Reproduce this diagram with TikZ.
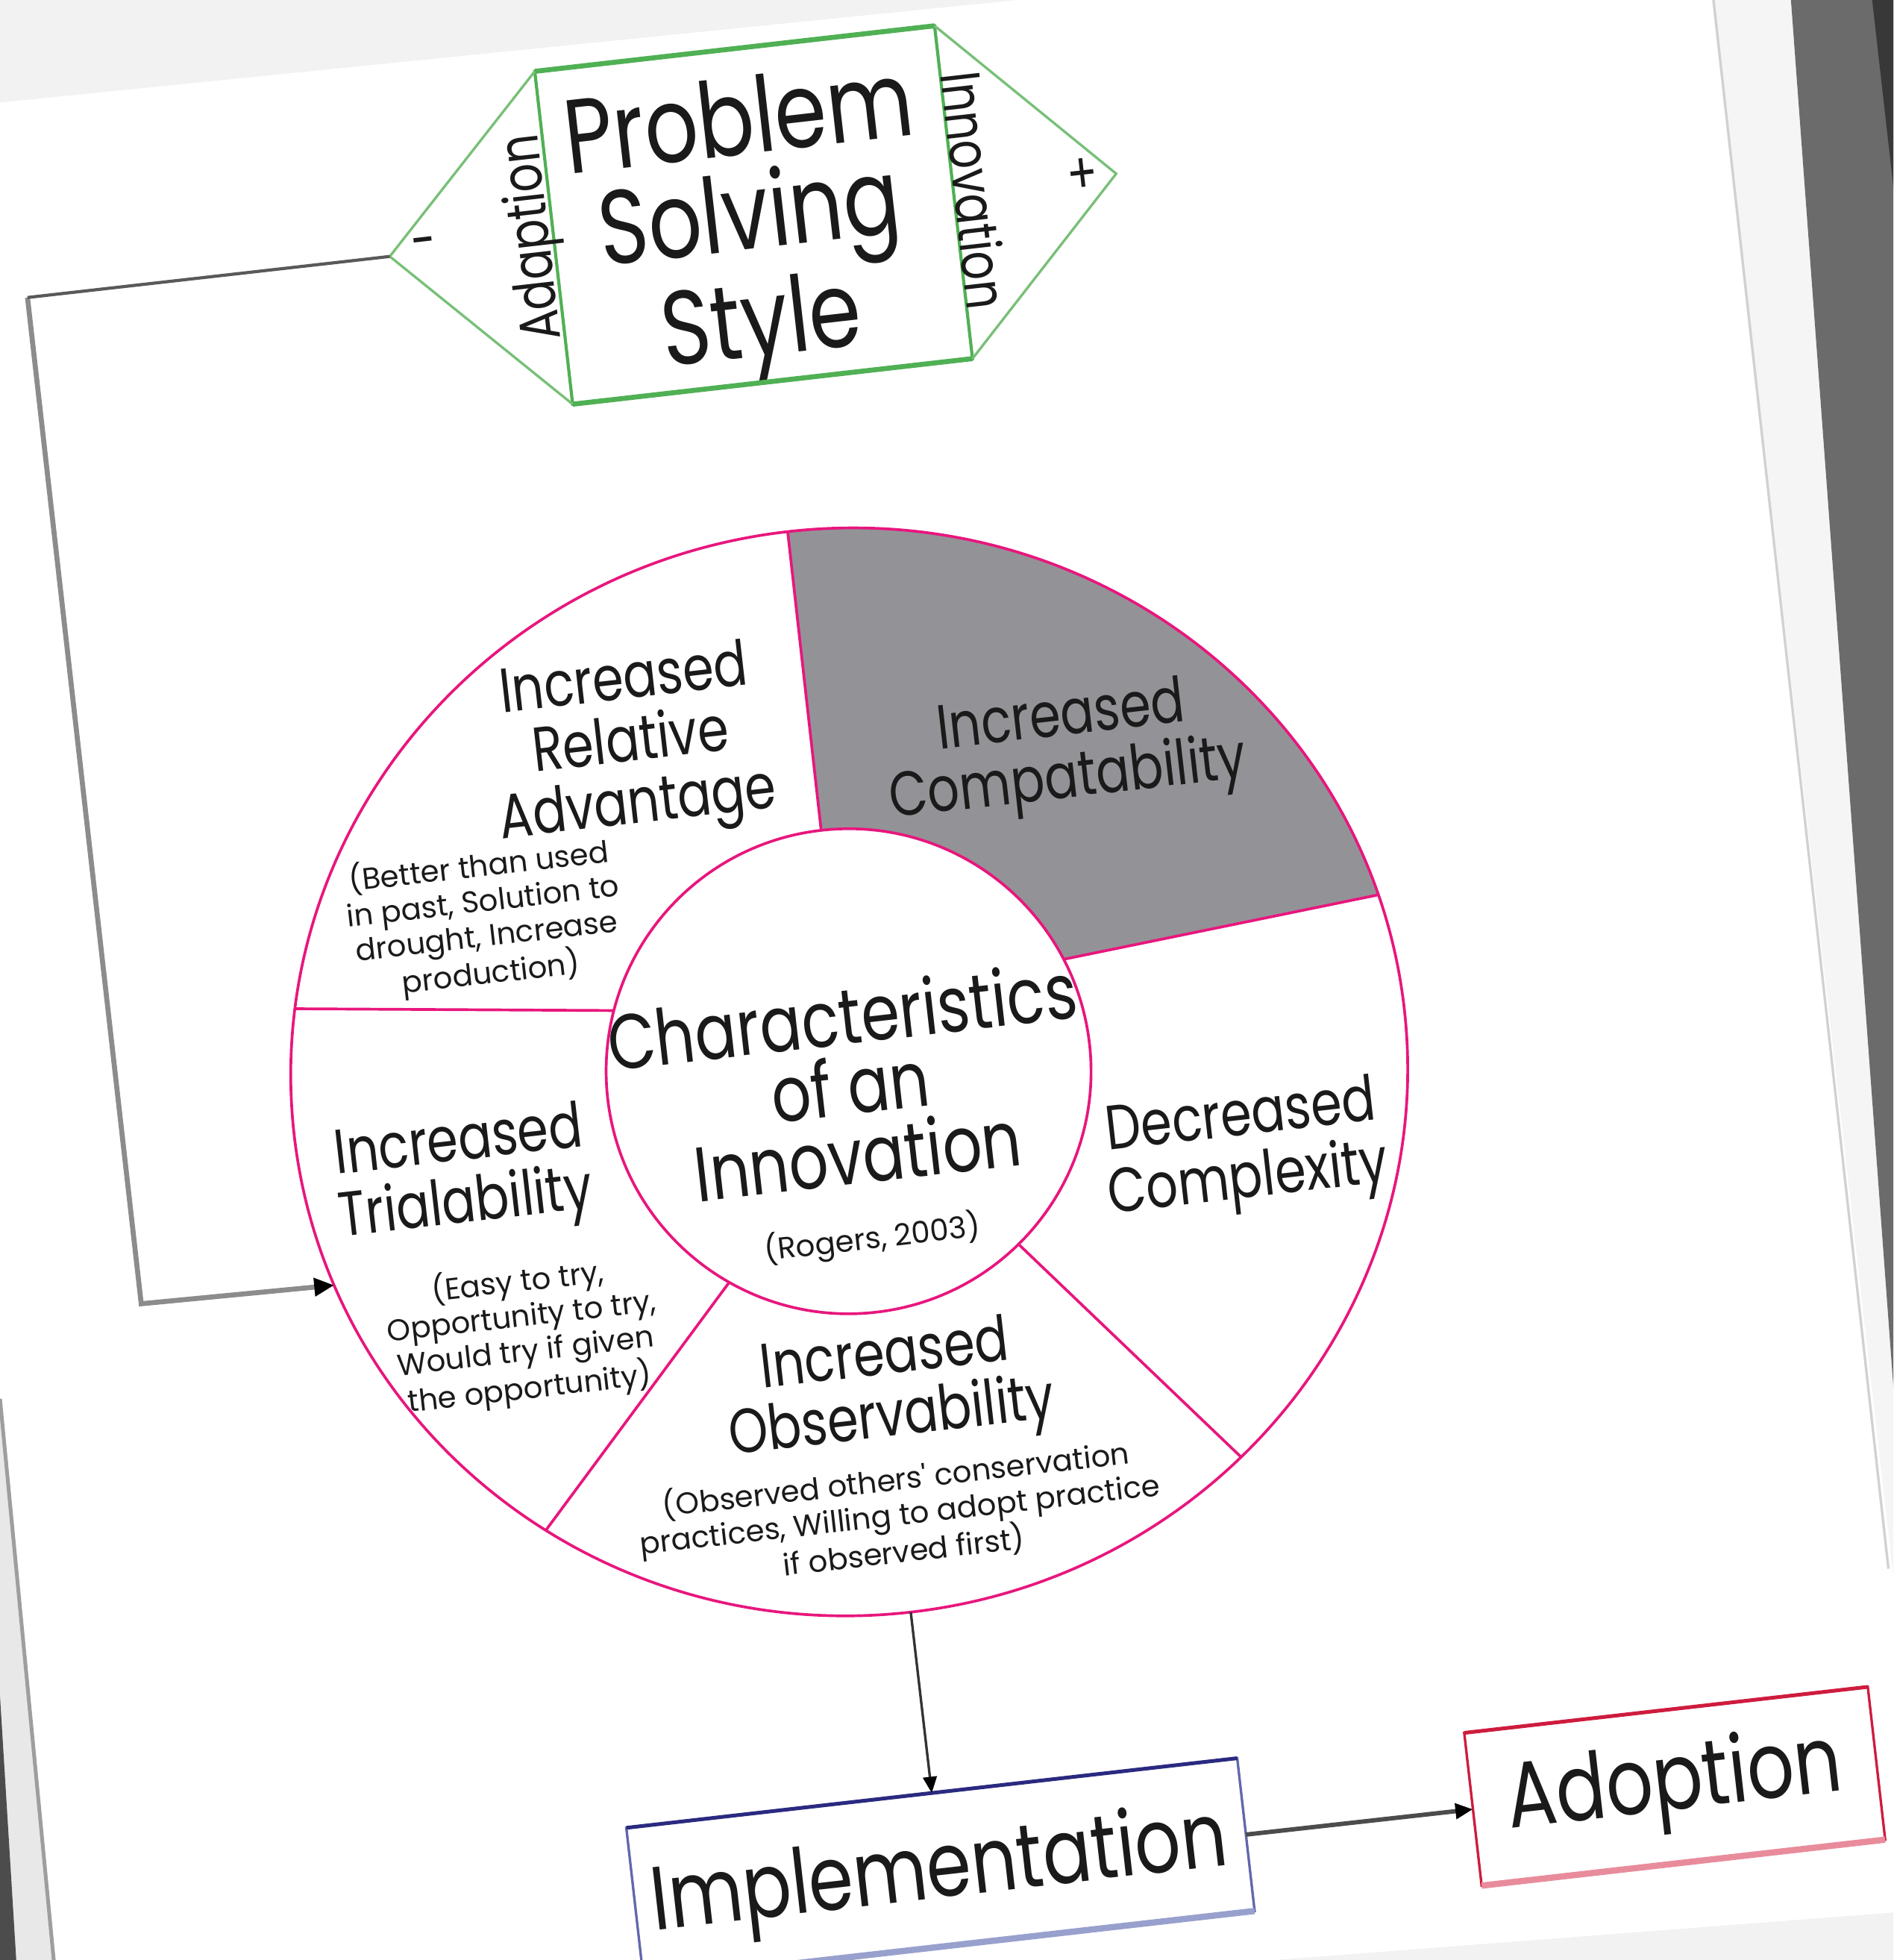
\documentclass[tikz,border=0pt]{standalone}
\usepackage{fontspec}
\setmainfont[FakeStretch=0.8]{Poppins}
\newfontfamily\notefont{Poppins}
\usetikzlibrary{arrows.meta,calc,shapes.geometric,backgrounds}
\definecolor{ringpink}{RGB}{232,22,125}
\definecolor{cmpgray}{RGB}{147,147,151}
\definecolor{psgreen}{RGB}{80,176,84}
\definecolor{hexgreen}{RGB}{120,192,120}
\definecolor{implblue}{RGB}{98,104,172}
\definecolor{impltop}{RGB}{42,42,128}
\definecolor{implbot}{RGB}{152,160,205}
\definecolor{adoptred}{RGB}{206,28,62}
\definecolor{adoptbot}{RGB}{232,140,156}
\definecolor{inkgray}{RGB}{26,26,26}
\begin{document}
\begin{tikzpicture}[x=1pt,y=-1pt,
    every node/.style={inner sep=0pt,outer sep=0pt,text=inkgray,align=center,rotate=6.5},
    title/.style={font=\fontsize{50}{50}\selectfont},
    note/.style={font=\notefont\fontsize{24}{28}\selectfont},
    side/.style={font=\fontsize{45}{45}\selectfont},
    seg/.style={draw=ringpink,line width=2.2pt},
    bigbox/.style={draw,line width=2pt,minimum height=123}]
  \useasboundingbox (0,0) rectangle (1515,1568);
  % page edges of the photo
  \fill[black!5] (0,0) -- (814,0) -- (0,82) -- cycle;
  \fill[black!4] (1371,0) -- (1433,0) -- (1515,1110) -- (1515,1262) -- cycle;
  \draw[black!18,line width=2pt] (1371,0) -- (1511,1255);
  \fill[black!58] (1433,0) -- (1515,0) -- (1515,1110) -- cycle;
  \fill[black!78] (1498,0) -- (1515,0) -- (1515,150) -- cycle;
  \fill[black!5] (1020,1568) -- (1515,1530) -- (1515,1568) -- cycle;
  \fill[black!9] (0,1119) -- (43,1568) -- (0,1568) -- cycle;
  \draw[black!38,line width=3pt] (0,1119) -- (43,1568);
  \fill[black!70] (0,1357) -- (13,1568) -- (0,1568) -- cycle;

  \node[draw=psgreen,line width=2.5pt,minimum width=322,minimum height=268] (pss) at (603,172) {};
  \node[font=\fontsize{84}{76}\selectfont] (pstext) at (601,184) {Problem\\Solving\\Style};
  \draw[psgreen,line width=4pt] (pss.north west) -- (pss.north east);
  \draw[psgreen,line width=4pt] (pss.south west) -- (pss.south east);
  \coordinate (adl) at ($(pss.west)!132pt!180:(pss.east)$);
  \coordinate (inr) at ($(pss.east)!131pt!180:(pss.west)$);
  \draw[hexgreen,line width=2pt] (pss.north west) -- (adl) -- (pss.south west);
  \draw[hexgreen,line width=2pt] (pss.north east) -- (inr) -- (pss.south east);
  \node[side,rotate=90] (adap) at (428,190) {Adaption};
  \node[side,rotate=-90] (innov) at (780,152) {Innovation};
  \node[side] (minus) at (340,199) {-};
  \node[side] (plus) at (866,141) {+};

  \node[ellipse,seg,minimum width=894,minimum height=870] (ring) at (679.5,857.5) {};
  \node[circle,seg,fill=white,minimum size=388] (core) at (679,857) {};
  \coordinate (gt) at ($(core.90)!2!(ring.90)$);
  \coordinate (gr) at ($(core.21)!2!(ring.12)$);
  \begin{scope}[on background layer]
    \clip (core.90) -- (gt) -- (gt -| gr) -- (gr) -- (core.21) -- cycle;
    \fill[cmpgray,rotate around={6.5:(ring.center)}] (ring.center) ellipse [x radius=447,y radius=435];
  \end{scope}
  \foreach \a/\b in {90/90,21/12,308/309,234/230,159/167}
    \draw[seg] (core.\a) -- (ring.\b);

  \node[title] (ratitle) at (505,597) {Increased\\Relative\\Advantage};
  \node[note] (ranote) at (388,736) {(Better than used\\in past, Solution to\\drought, Increase\\production)};
  \node[title] (cmp) at (852,601) {Increased\\Compatability};
  \node[title] (cplx) at (996,921) {Decreased\\Complexity};
  \node[title] (obstitle) at (711,1112) {Increased\\Observability};
  \node[note] (obsnote) at (720,1212) {(Observed others' conservation\\practices, Willing to adopt practice\\if observed first)};
  \node[title] (tritle) at (370,941) {Increased\\Trialability};
  \node[note] (trinote) at (419,1068) {(Easy to try,\\Opportunity to try,\\Would try if given\\the opportunity)};
  \node[font=\fontsize{62}{56}\selectfont] (coretitle) at (680,868) {Characteristics\\of an\\Innovation};
  \node[note] (rogers) at (698,991) {(Rogers, 2003)};

  \node[bigbox,draw=implblue,minimum width=492] (impl) at (752.5,1495.5) {};
  \node[font=\fontsize{72}{72}\selectfont] (impltext) at (752,1500) {Implementation};
  \draw[impltop,line width=3pt] (impl.north west) -- (impl.north east);
  \draw[implbot,line width=5pt] (impl.south west) -- (impl.south east);
  \node[bigbox,draw=adoptred,minimum width=325,font=\fontsize{74}{74}\selectfont] (adopt) at (1340,1429) {Adoption};
  \draw[adoptred,line width=3pt] (adopt.north west) -- (adopt.north east);
  \draw[adoptbot,line width=5pt] (adopt.south west) -- (adopt.south east);

  \coordinate (fb1) at (22,238);
  \coordinate (fb2) at (113,1043);
  \draw[black!45,line width=4pt,-{Triangle[length=16pt,width=14pt,color=black]}] (fb1) -- (fb2) -- (ring.196);
  \draw[black!65,line width=2.5pt] (adl) -- (fb1);
  \draw[black!80,line width=2pt,-{Triangle[length=13pt,width=11pt,color=black]}] (ring.south) -- (impl.north);
  \draw[black!70,line width=3.5pt,-{Triangle[length=14pt,width=12pt,color=black]}] (impl.east) -- (adopt.west);
\end{tikzpicture}
\end{document}
